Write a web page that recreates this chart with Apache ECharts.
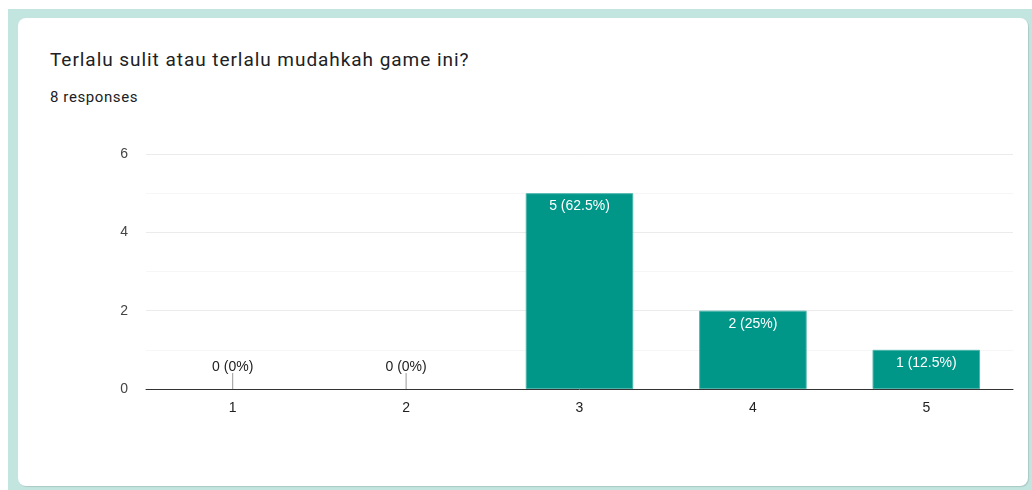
<!DOCTYPE html>
<html>
<head>
<meta charset="utf-8">
<script src="https://cdn.jsdelivr.net/npm/echarts@6/dist/echarts.min.js"></script>
<style>
  html, body { margin: 0; padding: 0; background: #ffffff; width: 1032px; height: 490px; overflow: hidden; }
  #frame { position: absolute; left: 8px; top: 9px; width: 1024px; height: 481px; background: #c2e5e0; }
  #card { position: absolute; left: 18px; top: 18px; width: 1010px; height: 468px; background: #ffffff;
          border-radius: 8px; box-shadow: 1px 1px 1px rgba(0,0,0,0.12); }
  #title { position: absolute; left: 50px; top: 48px; font-family: Roboto, "Open Sans", sans-serif;
           font-size: 19px; letter-spacing: 0.95px; color: #202124; }
  #sub { position: absolute; left: 50px; top: 88px; font-family: Roboto, sans-serif;
         font-size: 15px; letter-spacing: 0.6px; color: #202124; }
  #chart { position: absolute; left: 0; top: 0; width: 1032px; height: 490px; }
</style>
</head>
<body>
<div id="frame"></div>
<div id="card"></div>
<div id="title">Terlalu sulit atau terlalu mudahkah game ini?</div>
<div id="sub">8 responses</div>
<div id="chart"></div>
<script>
// Answers on the 1–5 scale and how many people chose each
const categories = ['1', '2', '3', '4', '5'];
const counts = [0, 0, 5, 2, 1];
const totalResponses = 8;

const pct = v => {
  const p = v / totalResponses * 100;
  return (Math.round(p * 10) / 10) + '%';
};

const chart = echarts.init(document.getElementById('chart'), null, { renderer: 'canvas' });

const labelFont = { fontFamily: 'Arial, "Liberation Sans", sans-serif', fontSize: 14 };
const textFont = '14px Arial, "Liberation Sans", sans-serif';

chart.setOption({
  animation: false,
  grid: { left: 146, right: 19, top: 154, bottom: 101, containLabel: false },
  xAxis: {
    type: 'category',
    data: categories,
    axisLine: { show: true, lineStyle: { color: '#333333', width: 1 } },
    axisTick: { show: false },
    axisLabel: { color: '#222222', margin: 12, ...labelFont }
  },
  yAxis: {
    type: 'value',
    min: 0, max: 6, interval: 2,
    axisLine: { show: false },
    axisTick: { show: false },
    axisLabel: { color: '#444444', margin: 18, ...labelFont },
    splitLine: { show: true, lineStyle: { color: '#ebebeb', width: 1 } },
    minorTick: { show: false, splitNumber: 2 },
    minorSplitLine: { show: true, lineStyle: { color: '#f6f6f6', width: 1 } }
  },
  series: [
    {
      type: 'bar',
      data: counts.map(v => ({ value: v, itemStyle: v === 0 ? { borderWidth: 0 } : {} })),
      barWidth: '62%',
      itemStyle: { color: '#009688', borderColor: '#4db6ac', borderWidth: 1 },
      label: { show: false },
      z: 2
    },
    {
      // value labels: inside the top of filled bars, above a short stub for empty ones
      type: 'custom',
      data: counts.map((v, i) => [i, v]),
      z: 3,
      renderItem: (params, api) => {
        const i = api.value(0);
        const v = api.value(1);
        const base = api.coord([i, 0]);
        const text = v + ' (' + pct(v) + ')';
        if (v === 0) {
          return {
            type: 'group',
            children: [
              { type: 'line', shape: { x1: base[0], y1: base[1] - 16, x2: base[0], y2: base[1] },
                style: { stroke: '#999999', lineWidth: 1 } },
              { type: 'text', style: { text, x: base[0], y: base[1] - 22,
                  align: 'center', verticalAlign: 'middle', fill: '#222222', font: textFont } }
            ]
          };
        }
        const top = api.coord([i, v]);
        return { type: 'text', style: { text, x: top[0], y: top[1] + 13,
            align: 'center', verticalAlign: 'middle', fill: '#ffffff', font: textFont } };
      }
    }
  ]
});
</script>
</body>
</html>
